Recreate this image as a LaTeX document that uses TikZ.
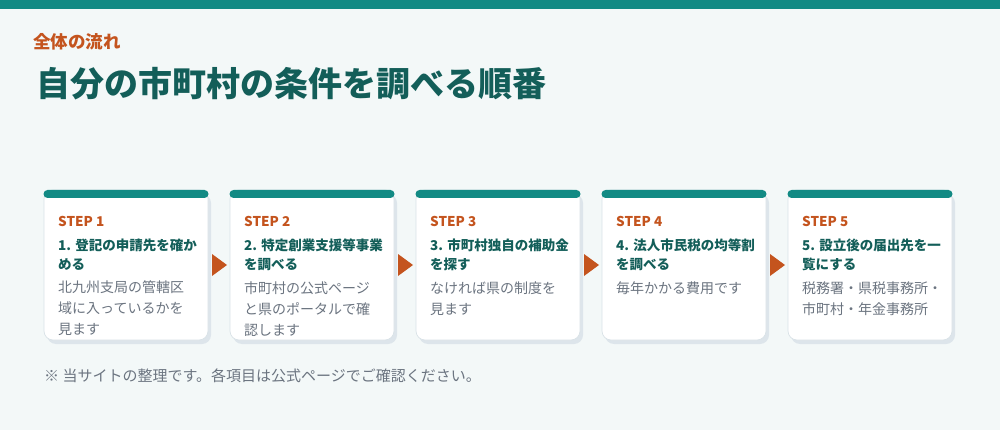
\documentclass[tikz,border=0pt]{standalone}
\usepackage{fontspec}
\setmainfont{Noto Sans CJK JP}
\usepackage{xcolor}
\usepackage{tikz}
\usetikzlibrary{positioning,shadows}
\definecolor{bgmint}{HTML}{F3F8F8}
\definecolor{tealbar}{HTML}{128A84}
\definecolor{rust}{HTML}{C4541E}
\definecolor{deepteal}{HTML}{135E59}
\definecolor{slate}{HTML}{6B7480}
\definecolor{cardline}{HTML}{D9E2E7}
\definecolor{shade}{HTML}{DDE5EB}

\begin{document}
\begin{tikzpicture}[
  x=1pt,y=-1pt,
  node distance=22pt,
  card/.style={draw=cardline,line width=0.7pt,fill=white,rounded corners=9pt,
               minimum width=164pt,minimum height=150pt,inner sep=0pt,outer sep=0pt,
               drop shadow={shadow xshift=3pt,shadow yshift=-4pt,fill=shade,opacity=1}},
  steplbl/.style={inner sep=0pt,text=rust,font=\fontsize{13.5}{16}\selectfont\bfseries},
  stitle/.style={inner sep=0pt,align=left,text=deepteal,font=\fontsize{13.5}{19}\selectfont\bfseries},
  sbody/.style={inner sep=0pt,align=left,text=slate,font=\fontsize{14}{21}\selectfont},
  tri/.style={fill=rust}
]
\fill[bgmint] (0,0) rectangle (1000,430);
\useasboundingbox (0,0) rectangle (1000,430);
\fill[tealbar] (0,0) rectangle (1000,9);

\node[anchor=west,inner sep=0pt,text=rust,font=\fontsize{17.5}{20}\selectfont\bfseries] (kicker) at (33,42) {全体の流れ};
\node[anchor=west,inner sep=0pt,text=deepteal,font=\fontsize{34}{38}\selectfont\bfseries] (headline) at (36,84) {自分の市町村の条件を調べる順番};

\node[card,anchor=north west] (c1) at (44,190) {};
\node[card,right=of c1] (c2) {};
\node[card,right=of c2] (c3) {};
\node[card,right=of c3] (c4) {};
\node[card,right=of c4] (c5) {};
\foreach \c in {c1,c2,c3,c4,c5}
  \fill[tealbar,rounded corners=4pt] ([xshift=-0.5pt]\c.north west) rectangle ([xshift=0.5pt,yshift=-8pt]\c.north east);

% step arrows
\fill[tri] ([xshift=4pt,yshift=11pt]c1.east) -- ++(15,11) -- ++(-15,11) -- cycle;
\fill[tri] ([xshift=4pt,yshift=11pt]c2.east) -- ++(15,11) -- ++(-15,11) -- cycle;
\fill[tri] ([xshift=4pt,yshift=11pt]c3.east) -- ++(15,11) -- ++(-15,11) -- cycle;
\fill[tri] ([xshift=4pt,yshift=11pt]c4.east) -- ++(15,11) -- ++(-15,11) -- cycle;

\node[steplbl,anchor=north west] (s1) at ([shift={(14,26)}]c1.north west) {STEP 1};
\node[stitle,below=12pt of s1.south west,anchor=north west] (h1) {1. 登記の申請先を確か\\める};
\node[sbody,below=10pt of h1.south west,anchor=north west] (b1) {北九州支局の管轄区\\域に入っているかを\\見ます};

\node[steplbl,anchor=north west] (s2) at ([shift={(14,26)}]c2.north west) {STEP 2};
\node[stitle,below=12pt of s2.south west,anchor=north west] (h2) {2. 特定創業支援等事業\\を調べる};
\node[sbody,below=10pt of h2.south west,anchor=north west] (b2) {市町村の公式ページ\\と県のポータルで確\\認します};

\node[steplbl,anchor=north west] (s3) at ([shift={(14,26)}]c3.north west) {STEP 3};
\node[stitle,below=12pt of s3.south west,anchor=north west] (h3) {3. 市町村独自の補助金\\を探す};
\node[sbody,below=10pt of h3.south west,anchor=north west] (b3) {なければ県の制度を\\見ます};

\node[steplbl,anchor=north west] (s4) at ([shift={(14,26)}]c4.north west) {STEP 4};
\node[stitle,below=12pt of s4.south west,anchor=north west] (h4) {4. 法人市民税の均等割\\を調べる};
\node[sbody,below=10pt of h4.south west,anchor=north west] (b4) {毎年かかる費用です};

\node[steplbl,anchor=north west] (s5) at ([shift={(14,26)}]c5.north west) {STEP 5};
\node[stitle,below=12pt of s5.south west,anchor=north west] (h5) {5. 設立後の届出先を一\\覧にする};
\node[sbody,below=10pt of h5.south west,anchor=north west] (b5) {税務署・県税事務所・\\市町村・年金事務所};

\node[anchor=west,inner sep=0pt,text=slate,font=\fontsize{15}{18}\selectfont] (note) at (44,376) {※ 当サイトの整理です。各項目は公式ページでご確認ください。};
\end{tikzpicture}
\end{document}
